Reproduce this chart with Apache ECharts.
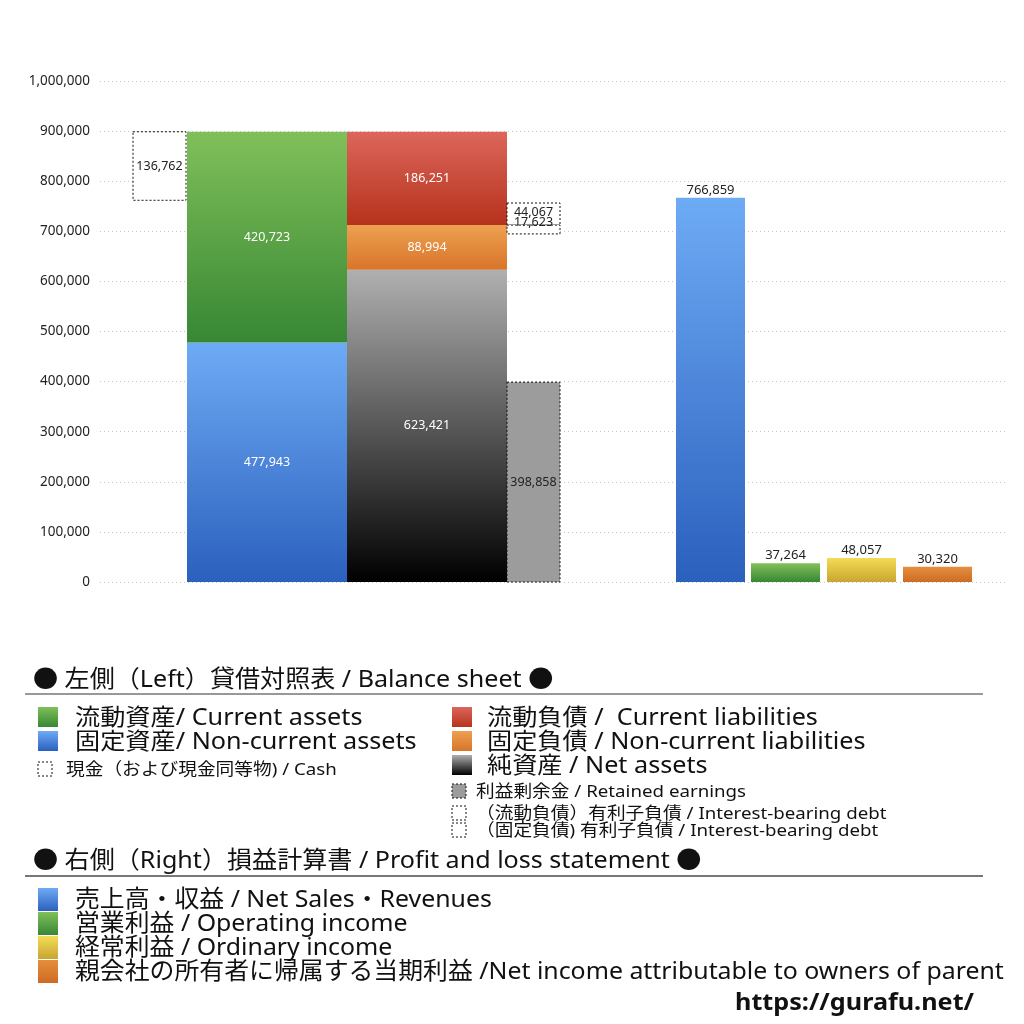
<!DOCTYPE html>
<html>
<head>
<meta charset="utf-8">
<script src="https://cdn.jsdelivr.net/npm/echarts@6/dist/echarts.min.js"></script>
<style>
  html, body { margin: 0; padding: 0; background: #fff; }
  #chart { width: 1024px; height: 1024px; }
</style>
</head>
<body>
<div id="chart"></div>
<script>
// values (thousand yen)
const assetValues = [477943, 420723];            // non-current, current
const liabilityValues = [623421, 88994, 186251]; // net assets, non-current liab, current liab
const cashValue = 136762;
const retainedValue = 398858;
const debtValues = [44067, 17623];               // current / non-current interest-bearing debt
const plValues = [766859, 37264, 48057, 30320];  // sales, operating, ordinary, net income
const yMax = 1000000;
const yStep = 100000;

const bsLeftLegend = ['流動資産/ Current assets', '固定資産/ Non-current assets'];
const bsRightLegend = ['流動負債 /  Current liabilities', '固定負債 / Non-current liabilities', '純資産 / Net assets'];
const cashLegend = '現金（および現金同等物) / Cash';
const bsSmallLegend = ['利益剰余金 / Retained earnings', '（流動負債）有利子負債 / Interest-bearing debt', '（固定負債) 有利子負債 / Interest-bearing debt'];
const plLegend = ['売上高・収益 / Net Sales・Revenues', '営業利益 / Operating income', '経常利益 / Ordinary income', '親会社の所有者に帰属する当期利益 /Net income attributable to owners of parent'];
const bsTitle = '● 左側（Left）貸借対照表 / Balance sheet ●';
const plTitle = '● 右側（Right）損益計算書 / Profit and loss statement ●';

const FONT = '"Noto Sans", "Noto Sans CJK JP", sans-serif';

function grad(top, bottom) {
  return { type: 'linear', x: 0, y: 0, x2: 0, y2: 1, colorStops: [{ offset: 0, color: top }, { offset: 1, color: bottom }] };
}
const C = {
  green: grad('#80c05a', '#378734'),
  blue: grad('#6eabf5', '#2b60bd'),
  red: grad('#dc665b', '#b6321c'),
  orange: grad('#eda050', '#d8752a'),
  net: grad('#b0b0b0', '#000000'),
  gray: '#9c9c9c',
  yellow: grad('#f4dc55', '#c8a530'),
  orange2: grad('#e58e3e', '#cd6c25')
};

const fmt = v => v.toLocaleString('en-US');

// one custom series per box; x in the hidden pixel-like axis
function box(x0, x1, bottom, top, fill, label, opt) {
  opt = opt || {};
  return {
    type: 'custom',
    coordinateSystem: 'cartesian2d',
    clip: false,
    data: [[x0, x1, bottom, top]],
    renderItem: function (params, api) {
      const a = api.coord([api.value(0), api.value(3)]);
      const b = api.coord([api.value(1), api.value(2)]);
      const children = [{
        type: 'rect',
        shape: { x: a[0], y: a[1], width: b[0] - a[0], height: b[1] - a[1] },
        style: {
          fill: fill,
          stroke: opt.dashed ? '#111' : null,
          lineWidth: opt.dashed ? 1 : 0,
          lineDash: opt.dashed ? [2, 2] : null
        }
      }];
      if (label) {
        let ty = (a[1] + b[1]) / 2 + (opt.dy || 0);
        let tx = (a[0] + b[0]) / 2 + (opt.dx || 0);
        if (opt.above) ty = a[1] - 8;
        children.push({
          type: 'text',
          style: {
            text: label, x: tx, y: ty, align: 'center', verticalAlign: 'middle',
            fontSize: opt.fs || 12.5, fontFamily: FONT, fill: opt.textColor || '#fff'
          }
        });
      }
      return { type: 'group', children: children };
    }
  };
}

const assetTotal = assetValues[0] + assetValues[1];
const series = [];
// assets column
series.push(box(87, 247, 0, assetValues[0], C.blue, fmt(assetValues[0])));
series.push(box(87, 247, assetValues[0], assetTotal, C.green, fmt(assetValues[1])));
series.push(box(33, 86, assetTotal - cashValue, assetTotal, '#fff', fmt(cashValue), { dashed: true, textColor: '#222' }));
// liabilities + net assets column
let acc = 0;
const liabFills = [C.net, C.orange, C.red];
liabilityValues.forEach((v, i) => {
  series.push(box(247, 407, acc, acc + v, liabFills[i], fmt(v)));
  acc += v;
});
series.push(box(407, 460, 0, retainedValue, C.gray, fmt(retainedValue), { dashed: true, textColor: '#222' }));
const liabBoundary = liabilityValues[0] + liabilityValues[1];
series.push(box(407, 460, liabBoundary, liabBoundary + debtValues[0], '#fff', fmt(debtValues[0]), { dashed: true, textColor: '#222', dy: -2 }));
series.push(box(407, 460, liabBoundary - debtValues[1], liabBoundary, '#fff', fmt(debtValues[1]), { dashed: true, textColor: '#222', dy: -7 }));
// P&L columns
const plFills = [C.blue, C.green, C.yellow, C.orange2];
const plX = [576, 651, 727, 803];
plValues.forEach((v, i) => {
  series.push(box(plX[i], plX[i] + 69, 0, v, plFills[i], fmt(v), { above: true, textColor: '#222', fs: 13 }));
});

// legend drawn as graphic elements
const g = [];
function txt(x, y, text, size, sx, bold) {
  g.push({
    type: 'text', x: x, y: y, scaleX: sx || 1, originX: 0, originY: 0,
    style: { text: text, fontSize: size, fontWeight: bold ? 'bold' : 'normal', fontFamily: FONT, fill: '#111', verticalAlign: 'middle' }
  });
}
function mark(x, y, w, h, fill, dashed) {
  g.push({
    type: 'rect', shape: { x: x, y: y, width: w, height: h },
    style: { fill: fill, stroke: dashed ? '#111' : null, lineWidth: dashed ? 1 : 0, lineDash: dashed ? [2, 2] : null }
  });
}
txt(33, 680, bsTitle, 24, 1.045);
g.push({ type: 'line', shape: { x1: 25, y1: 694, x2: 983, y2: 694 }, style: { stroke: '#333', lineWidth: 1 } });
const bsLeftFill = [C.green, C.blue];
bsLeftLegend.forEach((t, i) => {
  mark(38, 707 + i * 24, 20, 20, bsLeftFill[i]);
  txt(75, 718 + i * 24, t, 23, 1.095);
});
mark(38, 762, 14, 14, '#fff', true);
txt(66, 770, cashLegend, 17, 1.1);
const bsRightFill = [C.red, C.orange, C.net];
bsRightLegend.forEach((t, i) => {
  mark(452, 707 + i * 24, 20, 20, bsRightFill[i]);
  txt(487, 718 + i * 24, t, 23, 1.095);
});
const smallFill = [C.gray, '#fff', '#fff'];
const smallY = [784, 806, 823];
bsSmallLegend.forEach((t, i) => {
  mark(452, smallY[i], 14, 14, smallFill[i], true);
  txt(476, smallY[i] + 8, t, 17, 1.1);
});
txt(33, 861, plTitle, 24, 1.045);
g.push({ type: 'line', shape: { x1: 25, y1: 876, x2: 983, y2: 876 }, style: { stroke: '#777', lineWidth: 2 } });
plLegend.forEach((t, i) => {
  mark(38, 888 + i * 24, 20, 23, plFills[i]);
  txt(75, 900 + i * 24, t, 24, 1.036);
});
txt(735, 1003, 'https://gurafu.net/', 24, 1.05, true);

const chart = echarts.init(document.getElementById('chart'));
chart.setOption({
  animation: false,
  backgroundColor: '#fff',
  grid: { left: 100, right: 19, top: 81, bottom: 442 },
  xAxis: { type: 'value', min: 0, max: 905, show: false },
  yAxis: {
    type: 'value', min: 0, max: yMax, interval: yStep,
    axisLine: { show: false }, axisTick: { show: false },
    axisLabel: { formatter: fmt, fontSize: 13.5, color: '#222', fontFamily: FONT, margin: 10 },
    splitLine: { lineStyle: { type: [1, 3], color: '#c4c4c4' } }
  },
  series: series,
  graphic: g
});
</script>
</body>
</html>
